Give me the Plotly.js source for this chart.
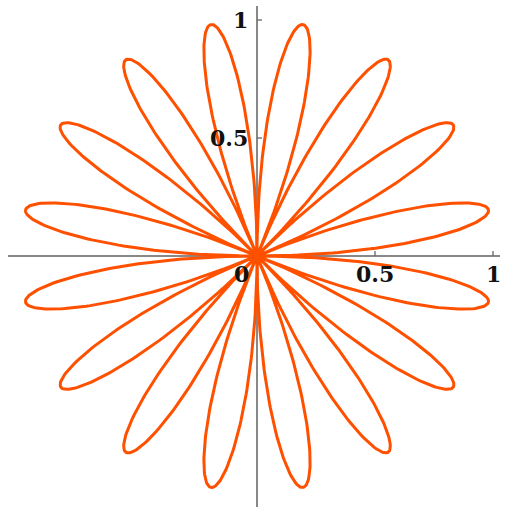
<!DOCTYPE html>
<html>
<head>
<meta charset="utf-8">
<script src="https://cdn.plot.ly/plotly-3.0.1.min.js"></script>
<style>html,body{margin:0;padding:0;background:#fff;}#chart{width:505px;height:507px;}</style>
</head>
<body>
<div id="chart"></div>
<script>
// Rose curve r = sin(k*theta), 16 petals
const roseK = [8];
const xTickVals = [0.5, 1];
const xTickText = ["0.5", "1"];
const yTickVals = [0.5, 1];
const yTickText = ["0.5", "1"];
const originLabel = ["0"];

const N = 2000;
const xs = [], ys = [];
for (let i = 0; i <= N; i++) {
  const t = 2 * Math.PI * i / N;
  const r = Math.sin(roseK[0] * t);
  xs.push(r * Math.cos(t));
  ys.push(r * Math.sin(t));
}

const S = 236;
const labelFont = {family: "DejaVu Serif", size: 22, color: "#111"};
const shapes = [];
xTickVals.forEach(v => shapes.push({type: "line", xref: "x", yref: "y", ysizemode: "pixel", yanchor: 0, x0: v, x1: v, y0: 0, y1: 5, line: {color: "#666", width: 1.3}}));
yTickVals.forEach(v => shapes.push({type: "line", xref: "x", yref: "y", xsizemode: "pixel", xanchor: 0, y0: v, y1: v, x0: 0, x1: 5, line: {color: "#666", width: 1.3}}));

const annotations = [];
xTickVals.forEach((v, i) => annotations.push({x: v, y: 0, xref: "x", yref: "y", text: "<b>" + xTickText[i] + "</b>", showarrow: false, xanchor: "center", yanchor: "top", yshift: -3, font: labelFont}));
yTickVals.forEach((v, i) => annotations.push({x: 0, y: v, xref: "x", yref: "y", text: "<b>" + yTickText[i] + "</b>", showarrow: false, xanchor: "right", yanchor: "middle", xshift: -7, font: labelFont}));
annotations.push({x: 0, y: 0, xref: "x", yref: "y", text: "<b>" + originLabel[0] + "</b>", showarrow: false, xanchor: "center", yanchor: "top", xshift: -16, yshift: -3, font: labelFont});

const layout = {
  width: 505, height: 507,
  margin: {l: 0, r: 0, t: 0, b: 0},
  paper_bgcolor: "#fff", plot_bgcolor: "#fff",
  showlegend: false,
  xaxis: {domain: [8/505, 500/505], range: [-249/S, 243/S], showgrid: false, showticklabels: false, ticks: "", zeroline: true, zerolinecolor: "#888", zerolinewidth: 1.5, fixedrange: true},
  yaxis: {domain: [0, 501/507], range: [-251/S, 250/S], showgrid: false, showticklabels: false, ticks: "", zeroline: true, zerolinecolor: "#888", zerolinewidth: 1.5, fixedrange: true},
  shapes: shapes,
  annotations: annotations
};

Plotly.newPlot("chart", [{
  x: xs, y: ys, type: "scatter", mode: "lines",
  line: {color: "#FF5000", width: 3},
  hoverinfo: "skip"
}], layout, {displayModeBar: false, staticPlot: true});
</script>
</body>
</html>
